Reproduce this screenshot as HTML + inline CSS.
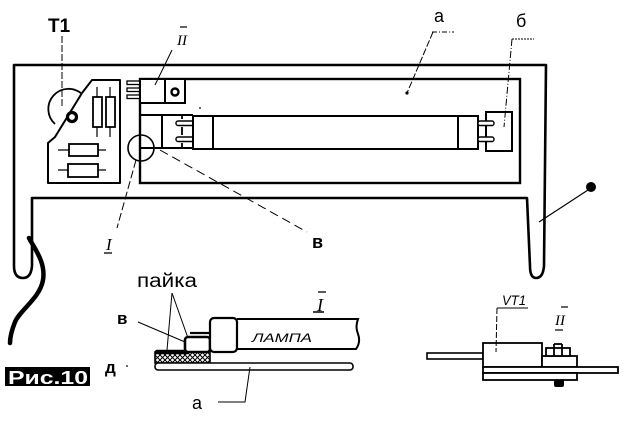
<!DOCTYPE html>
<html>
<head>
<meta charset="utf-8">
<style>
html,body{margin:0;padding:0;background:#fff;}
svg{display:block;}
text{font-family:"Liberation Sans","DejaVu Sans",sans-serif;fill:#000;}
</style>
</head>
<body>
<svg width="630" height="421" viewBox="0 0 630 421" xmlns="http://www.w3.org/2000/svg">
<defs>
<pattern id="hatch" width="5" height="5" patternUnits="userSpaceOnUse">
<path d="M0,5 L5,0 M0,0 L5,5" stroke="#000" stroke-width="1"/>
</pattern>
</defs>
<rect width="630" height="421" fill="#fff"/>

<!-- outer frame with legs -->
<path d="M32,198 L32,266 Q31,278 23,278 Q14,278 14,266 L14,65 L546,65 L544,266 Q543,278 536,278 Q530,278 530,266 L527,198 Z" fill="none" stroke="#000" stroke-width="2.6" stroke-linejoin="round"/>

<!-- cable -->
<path d="M29,238 C34,248 46,262 43,280 C40,298 20,310 15,322 C11,332 10,338 10,343" fill="none" stroke="#000" stroke-width="4.5" stroke-linecap="round"/>

<!-- lamp box -->
<rect x="140" y="79" width="380" height="104" fill="none" stroke="#000" stroke-width="2.4"/>

<!-- PCB board -->
<path d="M92,80 L120,80 L120,183 L48,183 L48,143 L55,137 L82,93 Z" fill="#fff" stroke="#000" stroke-width="2" stroke-linejoin="round"/>
<!-- T1 circle arc -->
<path d="M82,94 A16,16 0 1 0 55,124" fill="none" stroke="#000" stroke-width="1.8"/>
<circle cx="72" cy="117" r="4.5" fill="#fff" stroke="#000" stroke-width="3.2"/>
<!-- vertical resistors -->
<line x1="97" y1="87" x2="97" y2="137" stroke="#000" stroke-width="1.2"/>
<rect x="93" y="97" width="9" height="30" fill="#fff" stroke="#000" stroke-width="1.8"/>
<line x1="110" y1="87" x2="110" y2="137" stroke="#000" stroke-width="1.2"/>
<rect x="106" y="97" width="9" height="30" fill="#fff" stroke="#000" stroke-width="1.8"/>
<!-- horizontal resistors -->
<line x1="58" y1="150" x2="106" y2="150" stroke="#000" stroke-width="1.2"/>
<rect x="69" y="144" width="29" height="12" fill="#fff" stroke="#000" stroke-width="1.8"/>
<line x1="58" y1="170" x2="106" y2="170" stroke="#000" stroke-width="1.2"/>
<rect x="68" y="164" width="30" height="13" fill="#fff" stroke="#000" stroke-width="1.8"/>

<!-- transistor pins -->
<rect x="127" y="81" width="13" height="3.5" fill="#fff" stroke="#000" stroke-width="1.3"/>
<rect x="127" y="88" width="13" height="3.5" fill="#fff" stroke="#000" stroke-width="1.3"/>
<rect x="127" y="95" width="13" height="3.5" fill="#fff" stroke="#000" stroke-width="1.3"/>
<!-- transistor body -->
<rect x="140" y="79" width="25" height="24" fill="#fff" stroke="#000" stroke-width="2"/>
<rect x="165" y="79" width="20" height="24" fill="#fff" stroke="#000" stroke-width="2"/>
<circle cx="175" cy="92" r="3.5" fill="#fff" stroke="#000" stroke-width="2.4"/>

<!-- left lamp holder -->
<line x1="140" y1="115" x2="193" y2="115" stroke="#000" stroke-width="2"/>
<line x1="140" y1="148" x2="193" y2="148" stroke="#000" stroke-width="2"/>
<line x1="162" y1="115" x2="162" y2="148" stroke="#000" stroke-width="2"/>
<path d="M182,115 L182,119 M182,127 L182,135 M182,143 L182,148" stroke="#000" stroke-width="1.8"/>
<rect x="176" y="121" width="18" height="4.5" rx="2" fill="#fff" stroke="#000" stroke-width="1.4"/>
<rect x="176" y="137" width="18" height="4.5" rx="2" fill="#fff" stroke="#000" stroke-width="1.4"/>

<!-- lamp tube -->
<rect x="193" y="116" width="20" height="33" fill="#fff" stroke="#000" stroke-width="2"/>
<rect x="213" y="116" width="245" height="33" fill="#fff" stroke="#000" stroke-width="2"/>
<rect x="458" y="116" width="20" height="33" fill="#fff" stroke="#000" stroke-width="2"/>
<!-- right holder -->
<rect x="486" y="112" width="26" height="39" fill="#fff" stroke="#000" stroke-width="2"/>
<rect x="478" y="121" width="16" height="4.5" rx="2" fill="#fff" stroke="#000" stroke-width="1.4"/>
<rect x="478" y="137" width="16" height="4.5" rx="2" fill="#fff" stroke="#000" stroke-width="1.4"/>
<circle cx="200" cy="108" r="0.9" fill="#000"/>

<!-- labels top -->
<text x="48" y="32" font-size="19" font-weight="bold">T1</text>
<line x1="62" y1="36" x2="62" y2="106" stroke="#000" stroke-width="1" stroke-dasharray="7,2"/>

<line x1="180" y1="27" x2="187" y2="27" stroke="#000" stroke-width="1.2"/>
<text x="177" y="45" font-size="15" font-style="italic" style="font-family:'Liberation Serif',serif">II</text>
<line x1="172" y1="50" x2="155" y2="85" stroke="#000" stroke-width="1"/>

<text x="434" y="22" font-size="18">а</text>
<line x1="432" y1="32" x2="454" y2="32" stroke="#000" stroke-width="1" stroke-dasharray="5,2,1,2"/>
<line x1="433" y1="32" x2="407" y2="93" stroke="#000" stroke-width="1" stroke-dasharray="7,2"/>
<circle cx="407" cy="93" r="1.6" fill="#000"/>

<text x="516" y="27" font-size="18">б</text>
<line x1="512" y1="39" x2="534" y2="39" stroke="#000" stroke-width="1" stroke-dasharray="2,1"/>
<line x1="512" y1="39" x2="504" y2="127" stroke="#000" stroke-width="1" stroke-dasharray="7,2,1,2"/>

<!-- circle I -->
<circle cx="141" cy="148" r="13" fill="none" stroke="#000" stroke-width="1.6"/>
<line x1="136" y1="160" x2="117" y2="228" stroke="#000" stroke-width="1" stroke-dasharray="8,3"/>
<text x="106" y="250" font-size="17" font-style="italic" style="font-family:'Liberation Serif',serif">I</text>
<line x1="104" y1="253" x2="112" y2="253" stroke="#000" stroke-width="1.3"/>

<line x1="160" y1="150" x2="307" y2="232" stroke="#000" stroke-width="1" stroke-dasharray="9,5"/>
<text x="312" y="248" font-size="18" font-weight="bold">в</text>

<!-- ball -->
<circle cx="591" cy="187" r="5" fill="#000"/>
<line x1="588" y1="190" x2="539" y2="222" stroke="#000" stroke-width="1.2"/>

<!-- Detail I -->
<text x="137" y="287" font-size="19" textLength="60" lengthAdjust="spacingAndGlyphs">пайка</text>
<line x1="172" y1="293" x2="167" y2="350" stroke="#000" stroke-width="1"/>
<line x1="172" y1="293" x2="188" y2="338" stroke="#000" stroke-width="1"/>
<text x="117" y="324" font-size="17" font-weight="bold">в</text>
<line x1="138" y1="322" x2="185" y2="342" stroke="#000" stroke-width="1"/>
<text x="105" y="373" font-size="17" font-weight="bold">д</text>
<circle cx="127" cy="366" r="0.9" fill="#000"/>

<rect x="155" y="352" width="55" height="11" fill="url(#hatch)" stroke="#000" stroke-width="1.6"/>
<line x1="157" y1="352" x2="187" y2="352" stroke="#000" stroke-width="4.5" stroke-linecap="round"/>
<rect x="185" y="337" width="25" height="15" rx="3" fill="#fff" stroke="#000" stroke-width="2.6"/>
<line x1="190" y1="333" x2="210" y2="333" stroke="#000" stroke-width="2.2"/>
<rect x="210" y="318" width="27" height="34" rx="4" fill="#fff" stroke="#000" stroke-width="2.2"/>
<path d="M237,319 L358,319 Q355,327 358,334 Q361,342 356,349 L237,349" fill="none" stroke="#000" stroke-width="2"/>
<text x="252" y="342" font-size="12" font-style="italic" textLength="60" lengthAdjust="spacingAndGlyphs">ЛАМПА</text>
<line x1="318" y1="292" x2="326" y2="292" stroke="#000" stroke-width="1.3"/>
<text x="317" y="311" font-size="18" font-style="italic" style="font-family:'Liberation Serif',serif">I</text>
<line x1="313" y1="312" x2="324" y2="312" stroke="#000" stroke-width="1.5"/>

<rect x="155" y="363" width="198" height="7" rx="3" fill="#fff" stroke="#000" stroke-width="1.6"/>
<polyline points="250,367 245,402 218,402" fill="none" stroke="#000" stroke-width="1"/>
<text x="192" y="409" font-size="18">а</text>

<rect x="5" y="367" width="85" height="19" fill="#000"/>
<text x="8" y="384" font-size="18" font-weight="bold" textLength="80" lengthAdjust="spacingAndGlyphs" style="fill:#fff">Рис.10</text>

<!-- Detail II -->
<rect x="427" y="353" width="56" height="6" fill="#fff" stroke="#000" stroke-width="1.6"/>
<rect x="483" y="343" width="59" height="24" fill="#fff" stroke="#000" stroke-width="1.8"/>
<rect x="542" y="356" width="35" height="11" fill="#fff" stroke="#000" stroke-width="1.8"/>
<rect x="546" y="348" width="24" height="8" fill="#fff" stroke="#000" stroke-width="1.8"/>
<line x1="554" y1="344" x2="554" y2="356" stroke="#000" stroke-width="1.8"/>
<line x1="562" y1="344" x2="562" y2="356" stroke="#000" stroke-width="1.8"/>
<line x1="554" y1="344" x2="562" y2="344" stroke="#000" stroke-width="1.8"/>
<rect x="483" y="367" width="135" height="6" fill="#fff" stroke="#000" stroke-width="1.8"/>
<rect x="483" y="373" width="94" height="7" fill="#fff" stroke="#000" stroke-width="1.8"/>
<rect x="554" y="380" width="10" height="7" rx="2" fill="#000"/>
<text x="502" y="305" font-size="14" font-style="italic" textLength="24" lengthAdjust="spacingAndGlyphs">VT1</text>
<line x1="497" y1="308" x2="528" y2="308" stroke="#000" stroke-width="1"/>
<line x1="497" y1="308" x2="496" y2="352" stroke="#000" stroke-width="1" stroke-dasharray="6,2"/>
<line x1="561" y1="307" x2="568" y2="307" stroke="#000" stroke-width="1.2"/>
<text x="555" y="325" font-size="15" font-style="italic" style="font-family:'Liberation Serif',serif">II</text>
<line x1="555" y1="330" x2="563" y2="330" stroke="#000" stroke-width="1.2"/>
</svg>
</body>
</html>
